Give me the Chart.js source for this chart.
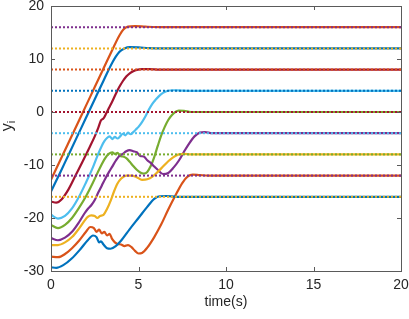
<!DOCTYPE html>
<html>
<head>
<meta charset="utf-8">
<script src="https://cdn.jsdelivr.net/npm/chart.js@4"></script>
<style>
  body { margin: 0; background: #fff; }
</style>
</head>
<body>
<canvas id="chart" width="409" height="319"></canvas>
<script>
// Curve data (time in s, value)
const t1 = [0, 0.3, 0.7, 1.2, 1.7, 2.1, 2.4, 2.6, 2.75, 2.85, 3.0, 3.2, 3.4, 3.7, 4.0, 4.5, 5.0, 5.5, 5.9, 6.2, 6.6, 7.2, 8, 20];
const y1 = [-29.3, -29.4, -28.9, -27.6, -25.8, -24.2, -23.3, -23.6, -24.6, -24.4, -25.0, -25.7, -25.8, -25.3, -24.3, -22.1, -20.0, -17.9, -16.4, -15.9, -15.85, -16, -16, -16];

const t2 = [0, 0.4, 0.8, 1.2, 1.6, 2.0, 2.25, 2.45, 2.6, 2.75, 2.9, 3.05, 3.2, 3.35, 3.5, 3.65, 3.8, 4.0, 4.2, 4.4, 4.6, 4.8, 5.0, 5.2, 5.5, 5.9, 6.3, 6.7, 7.1, 7.5, 7.8, 8.1, 8.5, 9, 20];
const y2 = [-27.3, -27.4, -26.8, -25.7, -24.3, -22.6, -21.7, -21.9, -22.6, -22.2, -22.9, -22.6, -23.3, -23.0, -24.0, -24.6, -24.9, -25.0, -25.3, -25.1, -25.5, -26.2, -26.7, -26.6, -25.6, -23.6, -21.2, -18.4, -15.8, -13.4, -12.2, -11.8, -11.9, -12, -12];

const t3 = [0, 0.4, 0.8, 1.2, 1.6, 1.9, 2.1, 2.3, 2.5, 2.65, 2.8, 3.0, 3.2, 3.4, 3.6, 3.8, 4.0, 4.3, 4.6, 4.9, 5.2, 5.5, 5.8, 6.1, 6.4, 6.7, 7.0, 7.3, 7.6, 8, 9, 20];
const y3 = [-25.1, -25.1, -24.6, -23.6, -22.0, -20.6, -19.8, -19.5, -19.6, -20.0, -19.6, -19.4, -18.3, -16.8, -15.0, -13.5, -12.6, -12.0, -12.0, -12.3, -12.8, -12.7, -12.2, -11.3, -10.3, -9.3, -8.5, -8.0, -7.9, -8.0, -8, -8];

const t4 = [0, 0.4, 0.8, 1.2, 1.6, 1.9, 2.1, 2.3, 2.5, 2.7, 2.9, 3.1, 3.3, 3.5, 3.7, 3.9, 4.1, 4.3, 4.5, 4.7, 4.9, 5.1, 5.3, 5.5, 5.7, 5.9, 6.1, 6.4, 6.7, 7.0, 7.3, 7.6, 7.9, 8.2, 8.5, 8.8, 9.2, 10, 20];
const y4 = [-23.8, -24.2, -23.7, -22.6, -20.8, -19.2, -18.3, -17.6, -16.6, -15.2, -13.9, -12.6, -11.4, -10.3, -9.2, -8.3, -7.9, -7.4, -7.2, -7.4, -7.6, -8.3, -8.4, -9.1, -9.6, -10.3, -10.9, -11.7, -11.5, -10.5, -9.2, -7.5, -5.9, -4.6, -3.9, -3.8, -4.0, -4, -4];

const t5 = [0, 0.4, 0.8, 1.2, 1.6, 2.0, 2.4, 2.8, 3.1, 3.3, 3.5, 3.65, 3.8, 3.95, 4.1, 4.3, 4.5, 4.7, 4.9, 5.1, 5.3, 5.5, 5.7, 5.9, 6.1, 6.3, 6.5, 6.7, 6.9, 7.1, 7.3, 7.6, 8, 9, 20];
const y5 = [-21.3, -21.9, -21.3, -20.0, -18.1, -15.9, -13.3, -10.5, -8.7, -7.9, -7.6, -7.9, -7.7, -8.3, -8.4, -8.7, -9.4, -10.2, -10.9, -11.4, -11.6, -11.3, -10.2, -8.5, -6.4, -4.4, -2.8, -1.5, -0.6, 0.0, 0.25, 0.2, 0.0, 0, 0];

const t6 = [0, 0.4, 0.8, 1.2, 1.6, 2.0, 2.4, 2.7, 2.9, 3.05, 3.2, 3.35, 3.5, 3.65, 3.8, 3.95, 4.1, 4.25, 4.4, 4.55, 4.7, 4.85, 5.0, 5.2, 5.4, 5.6, 5.8, 6.0, 6.2, 6.4, 6.6, 6.8, 7.0, 7.4, 8, 20];
const y6 = [-19.4, -20.1, -19.6, -18.2, -16.0, -13.3, -10.4, -7.9, -6.4, -5.5, -4.9, -4.6, -5.1, -4.7, -5.0, -4.6, -4.1, -4.4, -3.9, -4.2, -3.8, -3.3, -2.8, -1.9, -0.8, 0.5, 1.6, 2.4, 3.1, 3.6, 3.9, 4.05, 4.1, 4.05, 4.0, 4];

const t7 = [0, 0.3, 0.6, 1.0, 1.4, 1.8, 2.2, 2.5, 2.7, 2.85, 3.0, 3.15, 3.3, 3.5, 3.7, 3.9, 4.1, 4.3, 4.5, 4.7, 4.9, 5.2, 5.6, 6.2, 7, 20];
const y7 = [-16.9, -17.1, -16.5, -14.6, -12.0, -9.4, -6.7, -4.6, -3.0, -1.6, -1.2, -0.3, 0.7, 2.0, 3.4, 4.7, 5.8, 6.7, 7.3, 7.7, 7.95, 8.1, 8.1, 8.0, 8, 8];

const t8 = [0, 0.5, 1.0, 1.5, 2.0, 2.5, 3.0, 3.5, 3.9, 4.2, 4.5, 5.0, 5.6, 6.5, 20];
const y8 = [-15.0, -11.6, -8.1, -4.6, -1.1, 2.4, 5.9, 9.3, 11.3, 12.0, 12.25, 12.2, 12.05, 12, 12];

const t9 = [0, 0.5, 1.0, 1.5, 2.0, 2.5, 3.0, 3.5, 3.9, 4.15, 4.4, 4.8, 5.4, 6.5, 20];
const y9 = [-12.8, -9.3, -5.8, -2.3, 1.2, 4.7, 8.2, 11.7, 14.4, 15.6, 16.1, 16.2, 16.1, 16.0, 16];

// Reference levels (dotted)
const targets = [-16, -12, -8, -4, 0, 4, 8, 12, 16];
const timeRange = [0, 20];

// MATLAB colour order
const blue = '#0072BD', orange = '#D95319', yellow = '#EDB120', purple = '#7E2F8E',
      green = '#77AC30', lightBlue = '#4DBEEE', darkRed = '#A2142F';

const curveColors = [blue, orange, yellow, purple, green, lightBlue, darkRed, blue, orange];
const targetColors = [yellow, purple, green, lightBlue, darkRed, blue, orange, yellow, purple];

const curves = [[t1, y1], [t2, y2], [t3, y3], [t4, y4], [t5, y5], [t6, y6], [t7, y7], [t8, y8], [t9, y9]];

const pts = (ts, ys) => ts.map((t, i) => ({ x: t, y: ys[i] }));

const datasets = [];

// dotted references on top of the curves
targets.forEach((v, i) => {
    datasets.push({
        data: timeRange.map(t => ({ x: t, y: v })),
        borderColor: targetColors[i],
        borderWidth: 2,
        borderDash: [2, 2],
        pointRadius: 0,
        order: 0
    });
});

curves.forEach((c, i) => {
    datasets.push({
        data: pts(c[0], c[1]),
        borderColor: curveColors[i],
        borderWidth: 2.2,
        pointRadius: 0,
        cubicInterpolationMode: 'monotone',
        order: 1
    });
});

const textColor = '#262626';
const fontFamily = '"Liberation Sans", Arial, Helvetica, sans-serif';

// Box with inward ticks + y label with subscript
const frame = {
    id: 'frame',
    afterDraw(chart) {
        const { ctx, chartArea: a, scales: { x, y } } = chart;
        ctx.save();
        ctx.strokeStyle = '#5a5a5a';
        ctx.lineWidth = 1;
        ctx.strokeRect(Math.round(a.left) + 0.5, Math.round(a.top) + 0.5,
            Math.round(a.right - a.left), Math.round(a.bottom - a.top));
        ctx.beginPath();
        x.ticks.forEach(t => {
            const px = Math.round(x.getPixelForValue(t.value)) + 0.5;
            ctx.moveTo(px, a.bottom); ctx.lineTo(px, a.bottom - 4);
            ctx.moveTo(px, a.top); ctx.lineTo(px, a.top + 4);
        });
        y.ticks.forEach(t => {
            const py = Math.round(y.getPixelForValue(t.value)) + 0.5;
            ctx.moveTo(a.left, py); ctx.lineTo(a.left + 4, py);
            ctx.moveTo(a.right, py); ctx.lineTo(a.right - 4, py);
        });
        ctx.stroke();

        // y_i label
        ctx.fillStyle = textColor;
        ctx.translate(12, 126);
        ctx.rotate(-Math.PI / 2);
        ctx.font = '16px ' + fontFamily;
        const wy = ctx.measureText('y').width;
        ctx.font = '11px ' + fontFamily;
        const wi = ctx.measureText('i').width;
        const x0 = -(wy + wi) / 2;
        ctx.textBaseline = 'alphabetic';
        ctx.font = '16px ' + fontFamily;
        ctx.fillText('y', x0, 0);
        ctx.font = '11px ' + fontFamily;
        ctx.fillText('i', x0 + wy, 3);
        ctx.restore();
    }
};

const ctx = document.getElementById('chart').getContext('2d');

const chart = new Chart(ctx, {
    type: 'line',
    data: { datasets: datasets },
    options: {
        responsive: false,
        animation: false,
        layout: { padding: { top: 6, right: 8, left: 0, bottom: 0 } },
        plugins: { legend: { display: false }, tooltip: { enabled: false } },
        scales: {
            x: {
                type: 'linear',
                min: 0,
                max: 20,
                ticks: { stepSize: 5, color: textColor, padding: 6, font: { family: fontFamily, size: 14 } },
                grid: { display: false, drawTicks: false },
                border: { display: false },
                title: { display: true, text: 'time(s)', color: textColor, font: { family: fontFamily, size: 14 }, padding: { top: 0, bottom: 8 } },
                afterFit: s => { s.height = 48; s.paddingLeft = 0; s.paddingRight = 0; }
            },
            y: {
                min: -30,
                max: 20,
                ticks: { stepSize: 10, color: textColor, padding: 7, font: { family: fontFamily, size: 14 } },
                grid: { display: false, drawTicks: false },
                border: { display: false },
                afterFit: s => { s.width = 51; s.paddingTop = 0; s.paddingBottom = 0; }
            }
        }
    },
    plugins: [frame]
});
</script>
</body>
</html>
